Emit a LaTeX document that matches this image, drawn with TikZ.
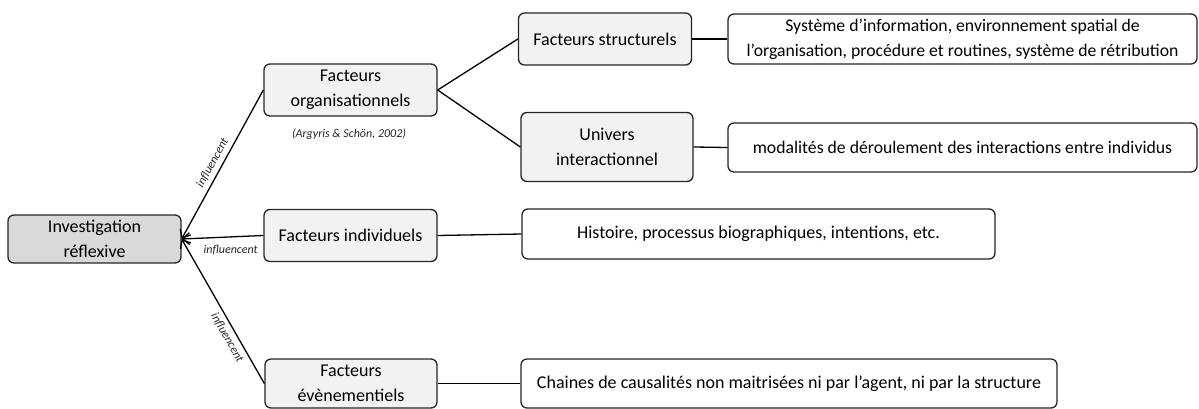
\documentclass[tikz,border=0pt]{standalone}
\usepackage{fontspec}
\setmainfont{Carlito}
\usetikzlibrary{arrows.meta}
\begin{document}
\begin{tikzpicture}[x=1pt,y=-1pt,
  box/.style={draw=black!85, line width=1.3pt, rounded corners=6pt, align=center, inner sep=0pt,
    font=\fontsize{18}{25}\selectfont},
  main/.style={box, fill=gray!30},
  fac/.style={box, fill=gray!10},
  desc/.style={box, fill=white},
  con/.style={line width=1.3pt, draw=black},
  arr/.style={con, -{Straight Barb[length=7pt,width=12pt,line width=1.3pt]}},
  lab/.style={font=\fontsize{12}{14}\selectfont\itshape, text=black!85, inner sep=4pt}
]
\useasboundingbox (0,0) rectangle (1199,409);
\node[main, minimum width=173pt, minimum height=48pt] (inv) at (94.5,239) {Investigation\\réflexive};
\node[fac, minimum width=173pt, minimum height=52pt] (org) at (350.5,90) {Facteurs\\organisationnels};
\node[fac, minimum width=173pt, minimum height=52pt] (ind) at (350.5,235.5) {Facteurs individuels};
\node[fac, minimum width=172pt, minimum height=49pt] (evt) at (351,383.5) {Facteurs\\évènementiels};
\node[fac, minimum width=173pt, minimum height=52pt] (str) at (605,39) {Facteurs structurels};
\node[fac, minimum width=172pt, minimum height=69pt] (uni) at (607,147) {Univers\\interactionnel};
\node[desc, minimum width=469pt, minimum height=50pt, font=\fontsize{17.7}{25}\selectfont] (sys) at (962.5,39) {Système d’information, environnement spatial de\\l’organisation, procédure et routines, système de rétribution};
\node[desc, minimum width=469pt, minimum height=49pt, font=\fontsize{17.7}{25}\selectfont] (mod) at (962.5,147.5) {modalités de déroulement des interactions entre individus};
\node[desc, minimum width=473pt, minimum height=50pt] (his) at (758.5,234) {Histoire, processus biographiques, intentions, etc.};
\node[desc, minimum width=536pt, minimum height=49pt] (cha) at (789,383.5) {Chaines de causalités non maitrisées ni par l’agent, ni par la structure};
\node[lab] (ref) at (349,134) {(Argyris \& Schön, 2002)};
\draw[arr] (org.west) -- node[lab, sloped, above, pos=0.52] {influencent} (inv.east);
\draw[arr] (ind.west) -- node[lab, below, pos=0.4, yshift=-4pt] {influencent} (inv.east);
\draw[arr] (evt.west) -- node[lab, sloped, below, pos=0.35] {influencent} (inv.east);
\draw[con] (org.east) -- (str.west);
\draw[con] (org.east) -- (uni.west);
\draw[con] (str.east) -- (sys.west);
\draw[con] (uni.east) -- (mod.west);
\draw[con] (ind.east) -- (his.west);
\draw[con] (evt.east) -- (cha.west);
\end{tikzpicture}
\end{document}
